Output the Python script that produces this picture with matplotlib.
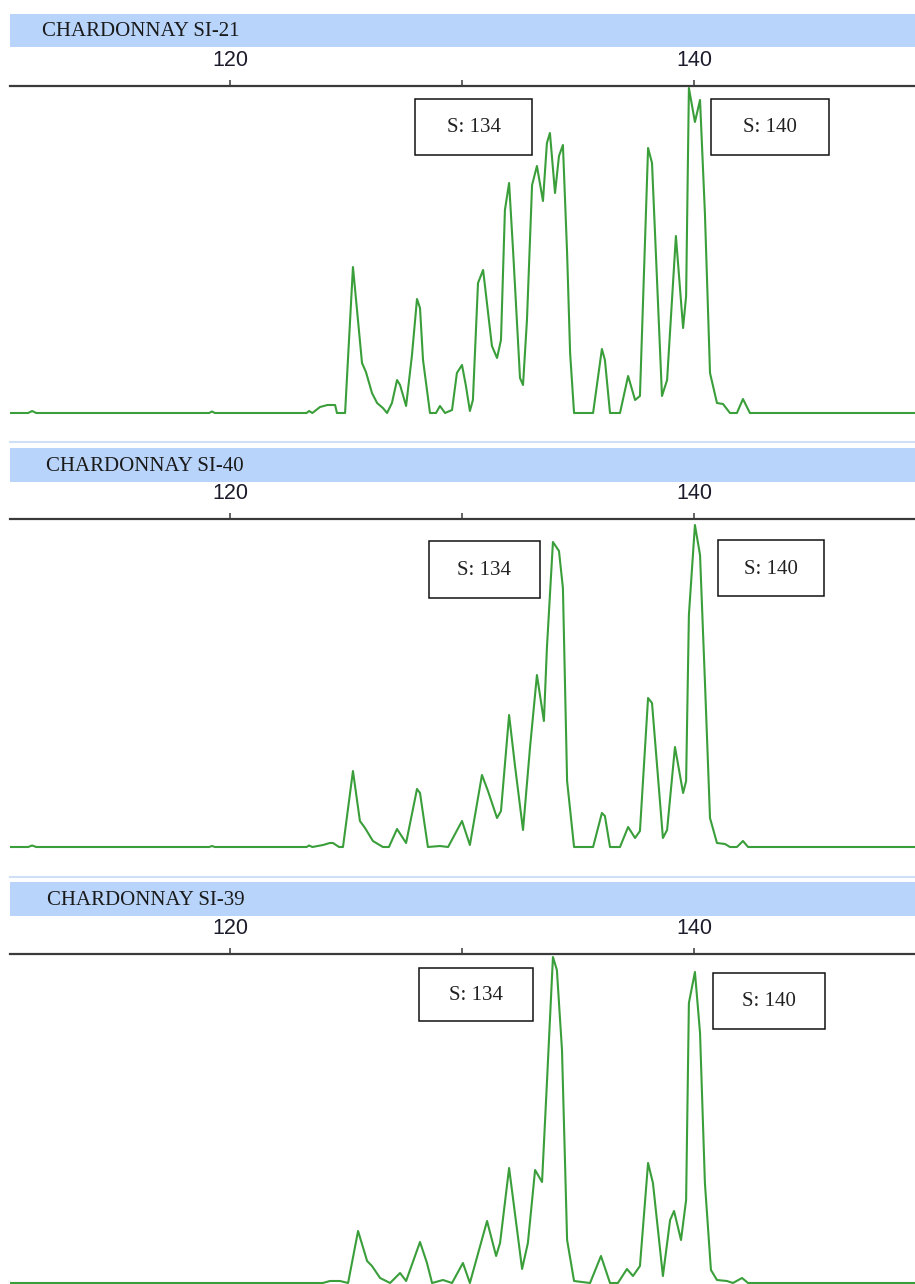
import matplotlib
matplotlib.use("Agg")
import matplotlib.pyplot as plt
from matplotlib.patches import Rectangle
from matplotlib.lines import Line2D

# Подписи образцов
titles = ["CHARDONNAY SI-21", "CHARDONNAY SI-40", "CHARDONNAY SI-39"]

# Трассы: (размер, интенсивность)
trace_21 = [(110.5, 0), (111.3, 0), (111.47, 2), (111.65, 0), (119.1, 0), (119.22, 1.5),
            (119.35, 0), (123.3, 0), (123.41, 2), (123.55, 0), (123.88, 6), (124.2, 8),
            (124.53, 8), (124.61, 0), (124.96, 0), (125.30, 146), (125.69, 50), (125.86, 41),
            (126.12, 20), (126.34, 10), (126.59, 5), (126.77, 0), (126.98, 10), (127.20, 33),
            (127.33, 28), (127.59, 7), (127.84, 57), (128.06, 114), (128.19, 105), (128.32, 53),
            (128.62, 0), (128.88, 0), (129.05, 7), (129.27, 0), (129.57, 3), (129.78, 40),
            (130.0, 48), (130.17, 27), (130.34, 2), (130.47, 13), (130.69, 130), (130.91, 143),
            (131.29, 67), (131.51, 55), (131.68, 73), (131.85, 203), (132.03, 230), (132.20, 163),
            (132.50, 35), (132.63, 28), (132.80, 93), (133.02, 228), (133.23, 247), (133.49, 212),
            (133.66, 270), (133.79, 280), (134.01, 220), (134.18, 257), (134.35, 268), (134.53, 160),
            (134.66, 60), (134.83, 0), (135.65, 0), (136.03, 64), (136.16, 53),
            (136.38, 0), (136.81, 0), (137.16, 37), (137.46, 13), (137.67, 17), (138.02, 265),
            (138.19, 250), (138.62, 17), (138.84, 33), (139.22, 177), (139.53, 85), (139.66, 117),
            (139.78, 325), (140.04, 291), (140.26, 313), (140.47, 200), (140.69, 40), (140.99, 10),
            (141.25, 9), (141.55, 0), (141.85, 0), (142.11, 14), (142.41, 0), (149.6, 0)]

trace_40 = [(110.5, 0), (111.3, 0), (111.47, 1.5), (111.65, 0), (119.1, 0), (119.22, 1),
            (119.35, 0), (123.3, 0), (123.41, 1.5), (123.55, 0), (124.01, 2), (124.3, 4),
            (124.44, 4), (124.7, 0), (124.87, 0), (125.30, 76), (125.60, 26), (125.82, 19),
            (126.16, 6), (126.59, 0), (126.85, 0), (127.20, 18), (127.59, 4), (128.06, 58),
            (128.19, 54), (128.53, 0), (129.05, 1), (129.40, 0), (130.0, 26), (130.34, 2),
            (130.86, 72), (131.12, 56), (131.51, 29), (131.68, 36), (132.03, 132), (132.28, 82),
            (132.63, 17), (132.93, 99), (133.23, 172), (133.53, 126), (133.66, 199), (133.92, 305),
            (134.18, 296), (134.35, 259), (134.53, 66), (134.83, 0), (135.65, 0), (136.03, 34),
            (136.16, 31), (136.38, 0), (136.81, 0), (137.16, 20), (137.46, 9), (137.67, 16),
            (138.02, 149), (138.19, 144), (138.66, 9), (138.84, 17), (139.18, 100), (139.53, 54),
            (139.66, 66), (139.78, 232), (140.04, 322), (140.26, 292), (140.47, 166), (140.69, 29),
            (140.99, 4), (141.34, 3), (141.55, 0), (141.85, 0), (142.11, 6), (142.33, 0), (149.6, 0)]

trace_39 = [(110.5, 0), (124.0, 0), (124.31, 2), (124.74, 2), (125.09, 0), (125.52, 52),
            (125.91, 22), (126.12, 17), (126.47, 5), (126.90, 0), (127.33, 10), (127.59, 2),
            (128.19, 41), (128.49, 20), (128.71, 0), (129.18, 3), (129.57, 0), (130.04, 20),
            (130.34, 0), (131.08, 62), (131.47, 27), (131.64, 40), (132.03, 115), (132.59, 14),
            (132.84, 40), (133.15, 113), (133.45, 101), (133.66, 200), (133.92, 326), (134.09, 313),
            (134.31, 233), (134.53, 43), (134.83, 2), (135.52, 0), (135.99, 27), (136.38, 0),
            (136.72, 0), (137.11, 14), (137.37, 7), (137.67, 17), (138.02, 120), (138.23, 100),
            (138.66, 7), (138.97, 63), (139.14, 72), (139.44, 43), (139.66, 83), (139.78, 280),
            (140.04, 311), (140.26, 250), (140.47, 100), (140.73, 13), (140.99, 3), (141.42, 2),
            (141.68, 0), (142.07, 5), (142.33, 0), (149.6, 0)]

traces = [trace_21, trace_40, trace_39]

tick_pos = [120, 130, 140]
tick_labels = ["120", "", "140"]
box_labels = ["S: 134", "S: 140"]

# Разметка в пикселях
W, H = 915, 1284
axes_px = [(86, 416, (-3, 327)), (519, 850, (-3, 328)), (954, 1284, (-1, 329))]
header_px = [(14, 47, 42), (448, 482, 46), (882, 916, 47)]
sep_px = [442, 877]
boxes_px = [[(415, 99, 532, 155), (711, 99, 829, 155)],
            [(429, 541, 540, 598), (718, 540, 824, 596)],
            [(419, 968, 533, 1021), (713, 973, 825, 1029)]]

fig = plt.figure(figsize=(W / 100, H / 100), dpi=100)
fig.patch.set_facecolor("white")

def fx(px):
    return px / W

def fy(py):
    return 1 - py / H

for y in sep_px:
    fig.add_artist(Line2D([fx(10), fx(915)], [fy(y), fy(y)], color="#cfe0f6", lw=1.5))

for i in range(3):
    top, bot, ylim = axes_px[i]
    ax = fig.add_axes([fx(10), fy(bot), fx(905), (bot - top) / H])
    xs = [p[0] for p in traces[i]]
    ys = [p[1] for p in traces[i]]
    ax.plot(xs, ys, color="#3a9e3a", lw=1.5, solid_joinstyle="round")
    ax.set_xlim(120 - 220 / 23.2, 120 + 685 / 23.2)
    ax.set_ylim(*ylim)
    for s in ["left", "right", "bottom"]:
        ax.spines[s].set_visible(False)
    ax.spines["top"].set_color("#3a3a3a")
    ax.spines["top"].set_linewidth(1.6)
    ax.set_yticks([])
    ax.xaxis.tick_top()
    ax.set_xticks(tick_pos, tick_labels)
    ax.tick_params(axis="x", direction="out", length=4.5, width=1.1, color="#3a3a3a",
                   pad=6.5, labelsize=15.5, labelcolor="#1c1c2c")
    for lab in ax.get_xticklabels():
        lab.set_family(["Liberation Sans", "DejaVu Sans"])

    # шапка
    y0, y1, tx = header_px[i]
    fig.add_artist(Rectangle((fx(10), fy(y1)), fx(905), (y1 - y0) / H,
                             transform=fig.transFigure, facecolor="#b9d4fb", edgecolor="none"))
    fig.text(fx(tx), fy((y0 + y1) / 2 + 1.5), titles[i], family=["Liberation Serif", "DejaVu Serif"],
             fontsize=15, color="#1a1a1a", va="center", ha="left")

    # подписи пиков
    for (l, t, r, b), lab in zip(boxes_px[i], box_labels):
        fig.add_artist(Rectangle((fx(l), fy(b)), fx(r - l), (b - t) / H, transform=fig.transFigure,
                                 facecolor="white", edgecolor="#111111", lw=1.1))
        fig.text(fx((l + r) / 2), fy((t + b) / 2 + 1), lab, family=["Liberation Serif", "DejaVu Serif"],
                 fontsize=15, color="#222222", va="center", ha="center")

fig.savefig("out.png", dpi=100)
